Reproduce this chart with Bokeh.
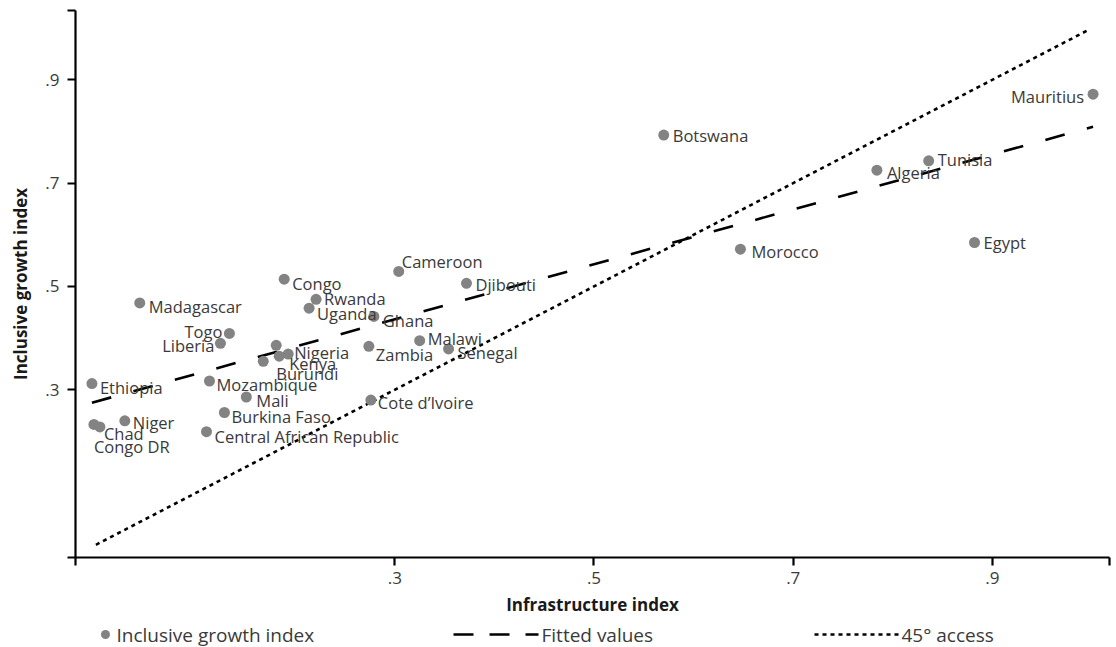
from bokeh.plotting import figure
from bokeh.models import Range1d, FixedTicker, ColumnDataSource
from bokeh.layouts import column
from bokeh.core.properties import value
from bokeh.embed import file_html
from bokeh.resources import INLINE

# ---- data -------------------------------------------------------------
countries = [
    "Madagascar", "Togo", "Liberia", "Ethiopia", "Mozambique", "Mali",
    "Burkina Faso", "Central African Republic", "Niger", "Chad", "Congo DR",
    "Burundi", "Kenya", "Nigeria", "", "Congo", "Rwanda", "Uganda", "Ghana",
    "Zambia", "Malawi", "Senegal", "Cote d\u2019Ivoire", "Djibouti", "Cameroon",
    "Botswana", "Morocco", "Algeria", "Tunisia", "Egypt", "Mauritius",
]
infrastructure = [
    0.044, 0.134, 0.125, -0.004, 0.114, 0.151,
    0.129, 0.111, 0.029, -0.002, 0.004,
    0.168, 0.184, 0.193, 0.181, 0.189, 0.221, 0.214, 0.279,
    0.274, 0.325, 0.354, 0.276, 0.372, 0.304,
    0.570, 0.647, 0.784, 0.836, 0.882, 1.001,
]
inclusive_growth = [
    0.468, 0.409, 0.390, 0.312, 0.317, 0.286,
    0.256, 0.219, 0.240, 0.233, 0.228,
    0.355, 0.365, 0.369, 0.386, 0.514, 0.475, 0.458, 0.442,
    0.384, 0.395, 0.379, 0.280, 0.506, 0.529,
    0.793, 0.572, 0.725, 0.743, 0.585, 0.872,
]

# fitted regression line (end points) and the 45 degree reference line
fit_x = [-0.004, 1.001]
fit_y = [0.275, 0.809]
diag_x = [0.0, 0.995]
diag_y = [0.0, 0.995]

x_ticks = [0.3, 0.5, 0.7, 0.9]
y_ticks = [0.3, 0.5, 0.7, 0.9]
tick_text = [".3", ".5", ".7", ".9"]

legend_text = ["Inclusive growth index", "Fitted values", "45\u00b0 access"]

# ---- label placement (pixel offsets from each marker) --------------------
label_dx = [
    9, -7, -6, 8, 7, 10,
    7, 8, 8, 10, -6,
    13, 10, 6, 0, 8, 8, 8, 9,
    7, 8, 9, 7, 9, 3,
    9, 11, 10, 9, 9, -9,
]
label_dy = [
    4, -2, 2, 4, 4, 3,
    4, 5, 2, 9, 20,
    12, 7, -2, 0, 4, -1, 5, 4,
    8, -2, 4, 2, 1, -10,
    0, 2, 2, -1, 0, 2,
]
label_align = ["left"] * len(label_dx)
for i in (1, 2, 30):          # Togo, Liberia, Mauritius sit left of their dots
    label_align[i] = "right"

FONT = "Open Sans"
DOT = "#838383"
TXT = "#3a3a3a"

X0, X1 = -0.0205, 1.0175
Y0, Y1 = -0.0246, 1.034

p = figure(
    width=1116, height=620,
    x_range=Range1d(X0, X1), y_range=Range1d(Y0, Y1),
    output_backend="svg", toolbar_location=None,
    min_border_left=75, min_border_right=7,
    min_border_top=10, min_border_bottom=63,
)
p.outline_line_color = None
p.xgrid.visible = False
p.ygrid.visible = False
p.background_fill_color = "white"
p.border_fill_color = "white"

src = ColumnDataSource(dict(
    x=infrastructure, y=inclusive_growth, name=countries,
    dx=label_dx, dy=label_dy, align=label_align,
))

p.line(diag_x, diag_y, line_color="black", line_width=2.6, line_dash="4 4")
p.line(fit_x, fit_y, line_color="black", line_width=2.6, line_dash="20 23")
p.scatter("x", "y", source=src, size=11, fill_color=DOT, line_color=None)
p.text("x", "y", text="name", source=src, x_offset="dx", y_offset="dy",
       text_align="align", text_baseline="middle",
       text_font=value(FONT), text_font_size="16.5px", text_color=TXT)

# axes: ticks at the values plus small end ticks at each range limit
for ax, ticks, lo, hi in ((p.xaxis[0], x_ticks, X0, X1), (p.yaxis[0], y_ticks, Y0, Y1)):
    ax.ticker = FixedTicker(ticks=[lo] + ticks + [hi])
    overrides = {t: s for t, s in zip(ticks, tick_text)}
    overrides[lo] = ""
    overrides[hi] = ""
    ax.major_label_overrides = overrides
    ax.minor_tick_line_color = None
    ax.axis_line_width = 2.2
    ax.major_tick_line_width = 2.2
    ax.major_tick_out = 8
    ax.major_tick_in = 0
    ax.major_label_text_font = FONT
    ax.major_label_text_font_size = "17px"
    ax.major_label_text_color = TXT
    ax.axis_label_text_font = FONT
    ax.axis_label_text_font_size = "17px"
    ax.axis_label_text_font_style = "bold"
    ax.axis_label_text_color = "#1a1a1a"

p.xaxis.axis_label = "Infrastructure index"
p.yaxis.axis_label = "Inclusive growth index"
p.xaxis.major_label_standoff = 6
p.xaxis.axis_label_standoff = 6
p.yaxis.major_label_standoff = 8
p.yaxis.axis_label_standoff = 10
p.yaxis.major_label_orientation = "horizontal"

# ---- legend strip: frame is aligned with the chart frame, so the x range
# is set to the page pixel span of that frame --------------------------------
leg = figure(
    width=1116, height=27, x_range=Range1d(75, 1109), y_range=Range1d(0, 27),
    output_backend="svg", toolbar_location=None,
    min_border_left=75, min_border_right=7,
    min_border_top=0, min_border_bottom=0,
)
leg.axis.visible = False
leg.grid.visible = False
leg.outline_line_color = None
ly = 13
leg.scatter([105], [ly], size=9, fill_color=DOT, line_color=None)
leg.line([453, 538], [ly, ly], line_color="black", line_width=2.6, line_dash="20 16")
leg.line([814, 898], [ly, ly], line_color="black", line_width=2.6, line_dash="4 4")
leg.text([116, 541, 901], [ly, ly, ly], text=legend_text,
         text_align="left", text_baseline="middle",
         text_font=value(FONT), text_font_size="19px", text_color=TXT)

layout = column(p, leg, spacing=0)
open("out.html", "w").write(file_html(layout, INLINE))
